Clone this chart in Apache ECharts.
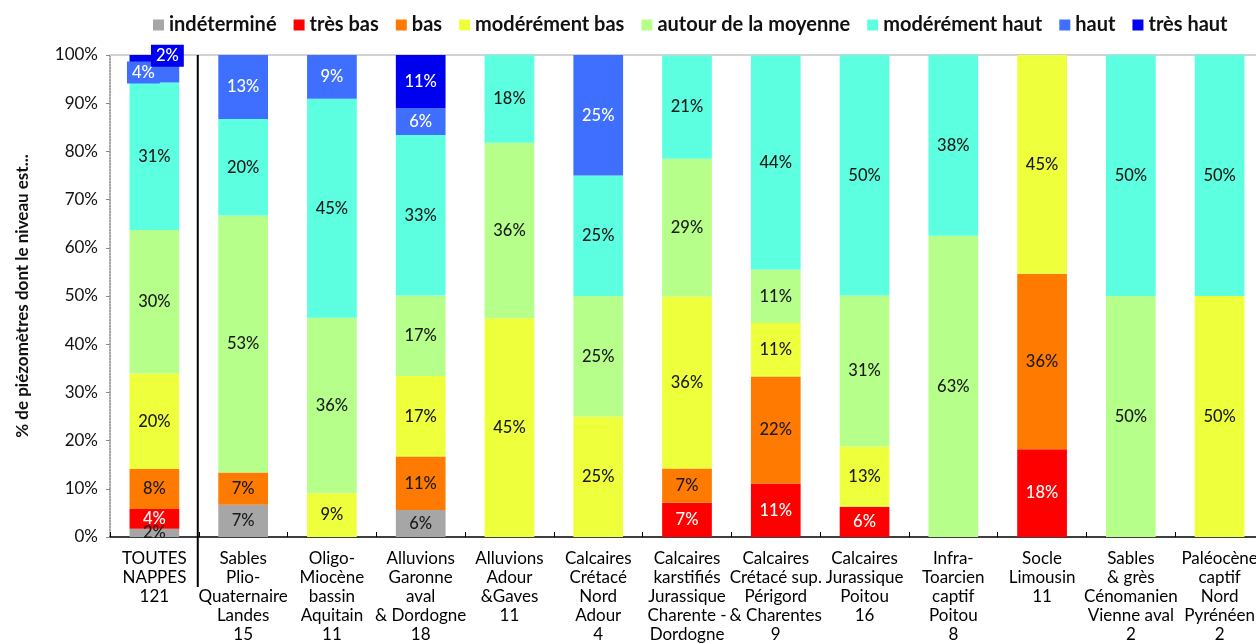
<!DOCTYPE html>
<html>
<head>
<meta charset="utf-8">
<script src="https://cdn.jsdelivr.net/npm/echarts@6/dist/echarts.min.js"></script>
<style>
  html, body { margin: 0; padding: 0; background: #fff; }
  #chart { width: 1256px; height: 644px; }
</style>
</head>
<body>
<div id="chart"></div>
<script>
// catégories (nappes) avec nombre de piézomètres
const categories = [
  "TOUTES\nNAPPES\n121",
  "Sables\nPlio-\nQuaternaire\nLandes\n15",
  "Oligo-\nMiocène\nbassin\nAquitain\n11",
  "Alluvions\nGaronne\naval\n& Dordogne\n18",
  "Alluvions\nAdour\n&Gaves\n11",
  "Calcaires\nCrétacé\nNord\nAdour\n4",
  "Calcaires\nkarstifiés\nJurassique\nCharente -\nDordogne\n14",
  "Calcaires\nCrétacé sup.\nPérigord\n& Charentes\n9",
  "Calcaires\nJurassique\nPoitou\n16",
  "Infra-\nToarcien\ncaptif\nPoitou\n8",
  "Socle\nLimousin\n11",
  "Sables\n& grès\nCénomanien\nVienne aval\n2",
  "Paléocène\ncaptif\nNord\nPyrénéen\n2"
];

// % de piézomètres par classe (null = aucun)
const indetermine = [1.7, 6.7, null, 5.6, null, null, null, null, null, null, null, null, null];
const tresBas     = [4.1, null, null, null, null, null, 7.1, 11.1, 6.3, null, 18.2, null, null];
const bas         = [8.3, 6.7, null, 11.1, null, null, 7.1, 22.2, null, null, 36.4, null, null];
const modereBas   = [19.8, null, 9.1, 16.7, 45.4, 25, 35.7, 11.1, 12.5, null, 45.4, null, 50];
const moyenne     = [29.8, 53.3, 36.4, 16.7, 36.4, 25, 28.6, 11.1, 31.3, 62.5, null, 50, null];
const modereHaut  = [30.6, 20, 45.4, 33.3, 18.2, 25, 21.4, 44.4, 50, 37.5, null, 50, 50];
const haut        = [4.1, 13.3, 9.1, 5.6, null, 25, null, null, null, null, null, null, null];
const tresHaut    = [1.7, null, null, 11.1, null, null, null, null, null, null, null, null, null];

const yTicks = [0, 10, 20, 30, 40, 50, 60, 70, 80, 90, 100];

const classes = [
  { name: "indéterminé", data: indetermine, color: "#A6A6A6", text: "#1a1a1a" },
  { name: "très bas", data: tresBas, color: "#FF0000", text: "#ffffff" },
  { name: "bas", data: bas, color: "#FF7A00", text: "#1a1a1a" },
  { name: "modérément bas", data: modereBas, color: "#EEFF3C", text: "#1a1a1a" },
  { name: "autour de la moyenne", data: moyenne, color: "#B6FF8A", text: "#1a1a1a" },
  { name: "modérément haut", data: modereHaut, color: "#5CFFE0", text: "#1a1a1a" },
  { name: "haut", data: haut, color: "#3F6FFF", text: "#ffffff" },
  { name: "très haut", data: tresHaut, color: "#0000F0", text: "#ffffff" }
];

// étiquettes décalées pour les petits segments de la 1re barre
const firstBarLabel = {
  "haut": { offset: [-11, 0] },
  "très haut": { offset: [13, -3] }
};

var myChart = echarts.init(document.getElementById("chart"));

const series = classes.map(function (c) {
  return {
    name: c.name,
    type: "bar",
    stack: "total",
    barCategoryGap: "44%",
    itemStyle: { color: c.color },
    label: {
      show: true,
      position: "inside",
      color: c.text,
      fontSize: 16.5,
      fontWeight: 500,
      fontFamily: "Lato",
      formatter: function (p) {
        return p.value == null ? "" : Math.round(p.value) + "%";
      }
    },
    data: c.data.map(function (v, i) {
      if (i === 0 && firstBarLabel[c.name]) {
        return {
          value: v,
          label: {
            offset: firstBarLabel[c.name].offset,
            backgroundColor: c.color,
            padding: [3, 5, 2, 5]
          }
        };
      }
      return v;
    })
  };
});

var option = {
  animation: false,
  textStyle: { fontFamily: "Lato" },
  legend: {
    top: 10,
    left: 148,
    itemWidth: 11,
    itemHeight: 11,
    itemGap: 17,
    icon: "rect",
    textStyle: { fontSize: 20, fontWeight: "bold", color: "#111", fontFamily: "Lato" },
    data: classes.map(function (c) { return c.name; })
  },
  grid: { left: 110, top: 55, width: 1154, height: 482, outerBoundsMode: "none", containLabel: false },
  xAxis: [
    {
      type: "category",
      data: categories,
      axisLine: { lineStyle: { color: "#000", width: 1.5 } },
      axisTick: { show: true, inside: true, length: 5, lineStyle: { color: "#000" } },
      axisLabel: {
        interval: 0,
        color: "#000",
        fontSize: 17,
        lineHeight: 19,
        margin: 12,
        fontFamily: "Lato"
      }
    },
    {
      type: "category",
      position: "top",
      data: categories,
      axisLine: { lineStyle: { color: "#d2d2d2", width: 2 } },
      axisTick: { show: false },
      axisLabel: { show: false }
    }
  ],
  yAxis: {
    type: "value",
    min: yTicks[0],
    max: yTicks[yTicks.length - 1],
    interval: 10,
    name: "% de piézomètres dont le niveau est...",
    nameLocation: "middle",
    nameGap: 79,
    nameTextStyle: { fontSize: 17, fontWeight: "bold", color: "#111", fontFamily: "Lato" },
    axisLine: { show: true, lineStyle: { color: "#888", type: "dotted", width: 1.5 } },
    axisTick: { show: true, length: 4, lineStyle: { color: "#888" } },
    splitLine: { show: false },
    axisLabel: {
      color: "#111",
      fontSize: 17,
      margin: 12,
      formatter: "{value}%"
    }
  },
  series: series
};

myChart.setOption(option);

// trait vertical séparant "TOUTES NAPPES" des autres nappes
var c0 = myChart.convertToPixel({ xAxisIndex: 0 }, 0);
var c1 = myChart.convertToPixel({ xAxisIndex: 0 }, 1);
var yTop = myChart.convertToPixel({ yAxisIndex: 0 }, 100);
var yZero = myChart.convertToPixel({ yAxisIndex: 0 }, 0);
var xSep = (c0 + c1) / 2 - 1;
myChart.setOption({
  graphic: [
    {
      type: "line",
      shape: { x1: xSep, y1: yTop, x2: xSep, y2: yZero + 50 },
      style: { stroke: "#000", lineWidth: 2 },
      z: 100
    }
  ]
});
</script>
</body>
</html>
